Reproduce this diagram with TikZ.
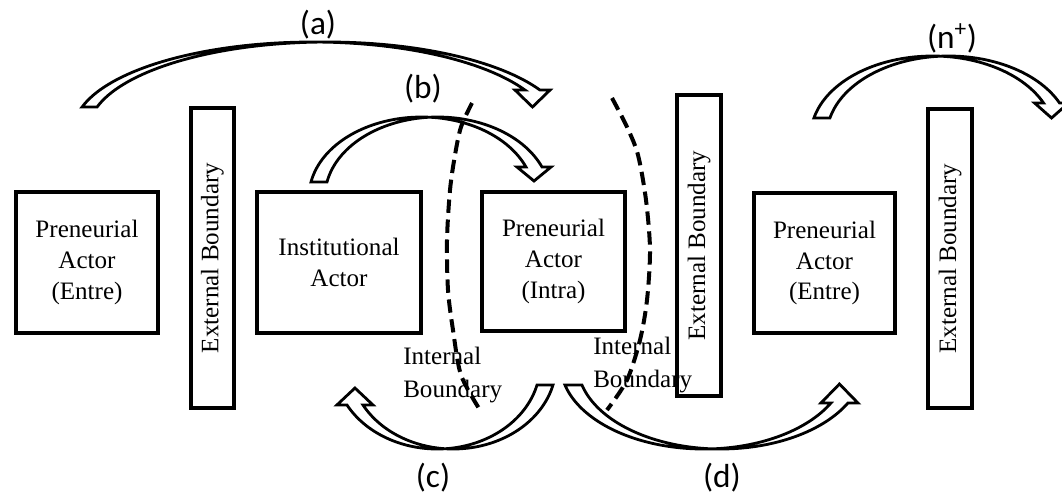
\documentclass[tikz,border=0pt]{standalone}
\usepackage{fontspec}
\setmainfont{Liberation Serif}
\newfontfamily\labelfont{Carlito}
% Curved block arrow: two equal ellipses offset by the band width,
% tail on the left, downward head on the right.
% #1 cx, #2 cy, #3 rx, #4 ry, #5 band width, #6 tail angle, #7 head angle,
% #8 tip y, #9 head overhang
\newcommand\bandarrow[9]{%
  \draw[blockarrow]
    plot[domain=#6:#7,samples=70] ({#1+#5+#3*cos(\x)},{#2+#4*sin(\x)})
    -- ({#1+#5+#3*cos(#7)+#9},{#2+#4*sin(#7)})
    -- ({#1+#3*cos(#7)+#5/2},{#8})
    -- ({#1+#3*cos(#7)-#9},{#2+#4*sin(#7)})
    -- plot[domain=#7:#6,samples=70] ({#1+#3*cos(\x)},{#2+#4*sin(\x)})
    -- cycle;}
\begin{document}
\begin{tikzpicture}[x=0.75pt,y=-0.75pt,
  boxtext/.style={font=\fontsize{18.8}{23.2}\selectfont},
  actor/.style={draw, line width=3pt, fill=white, align=center, inner sep=0pt, boxtext},
  extbox/.style={draw, line width=3pt, fill=white, rotate=90, inner sep=0pt, boxtext},
  blockarrow/.style={draw, fill=white, line width=2.1pt, line join=miter},
  boundaryline/.style={line width=3pt, dash pattern=on 10pt off 5pt},
  arrowlabel/.style={font=\labelfont\fontsize{25}{29}\selectfont, inner sep=0pt},
  innerlabel/.style={font=\fontsize{18.8}{24.5}\selectfont, align=left, inner sep=0pt, anchor=north west}]
\clip (0,0) rectangle (1062,501);
\fill[white] (0,0) rectangle (1062,501);

% actors
\node[actor, minimum width={142*0.75pt}, minimum height={141*0.75pt}] (entre1) at (87,262.5) {Preneurial\\Actor\\(Entre)};
\node[actor, minimum width={164*0.75pt}, minimum height={141*0.75pt}] (inst) at (339,262.5) {Institutional\\Actor};
\node[actor, minimum width={143*0.75pt}, minimum height={139*0.75pt}] (intra) at (553.5,261.5) {Preneurial\\Actor\\(Intra)};
\node[actor, minimum width={141*0.75pt}, minimum height={140*0.75pt}] (entre2) at (824.5,263) {Preneurial\\Actor\\(Entre)};

% external boundaries
\node[extbox, minimum width={300*0.75pt}, minimum height={43*0.75pt}] (ext1) at (212.5,258) {External Boundary};
\node[extbox, minimum width={301*0.75pt}, minimum height={44*0.75pt}] (ext2) at (699,245.5) {External Boundary};
\node[extbox, minimum width={299*0.75pt}, minimum height={44*0.75pt}] (ext3) at (950,258.5) {External Boundary};

% upper arrows (a), (b), (n+)
\bandarrow{312.4}{130}{238.6}{88}{15}{195.1}{333.0}{107}{10}
\bandarrow{421.6}{197}{112.6}{80}{16}{190.8}{338.0}{181}{9}
\bandarrow{932.6}{136}{121.8}{80}{16}{193.0}{335.6}{118}{9}

% lower arrows (c) and (d)
\begin{scope}[rotate=180]
  \bandarrow{-453.2}{-364}{103}{85}{16}{194.3}{331.2}{-388}{10}
\end{scope}
\begin{scope}[yscale=-1]
  \bandarrow{703.7}{-364}{143.2}{85}{17}{194.3}{332.7}{-384}{10}
\end{scope}

% internal boundaries
\draw[boundaryline] plot[smooth] coordinates {(472,103) (461,127) (455,155) (450,190) (447,240) (448,290) (453,330) (461,375) (480,410)};
\draw[boundaryline] plot[smooth] coordinates {(612,98) (627,127) (638,155) (646,200) (650,250) (647,300) (640,340) (627,380) (607,410)};

\node[innerlabel] (ib1) at (403,347) {Internal\\Boundary};
\node[innerlabel] (ib2) at (593,337) {Internal\\Boundary};

% arrow labels
\node[arrowlabel] (la) at (318,25) {(a)};
\node[arrowlabel] (lb) at (423,89) {(b)};
\node[arrowlabel] (ln) at (952,38) {(n\textsuperscript{+})};
\node[arrowlabel] (lc) at (433,478) {(c)};
\node[arrowlabel] (ld) at (722,478) {(d)};
\end{tikzpicture}
\end{document}
